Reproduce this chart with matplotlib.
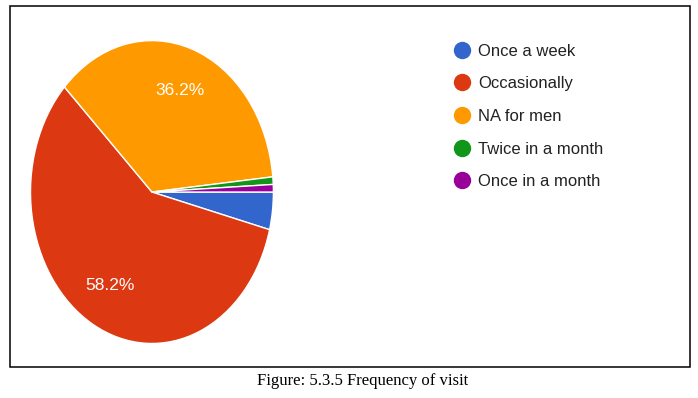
import matplotlib.pyplot as plt
from matplotlib.lines import Line2D
from matplotlib.patches import Rectangle

plt.rcParams['font.family'] = ['Liberation Sans', 'DejaVu Sans']

categories = ['Once a week', 'Occasionally', 'NA for men', 'Twice in a month', 'Once in a month']
shares = [4.0, 58.2, 36.2, 0.8, 0.8]
colors = ['#3366CC', '#DC3912', '#FF9900', '#109618', '#990099']
caption = 'Figure: 5.3.5 Frequency of visit'


def pct_label(p):
    return '%.1f%%' % p if p > 5 else ''


def main():
    fig = plt.figure(figsize=(6.98, 3.98), dpi=100)

    # pie axes (stretched vertically like the source image)
    ax = fig.add_axes([0.0437, 0.137, 0.348, 0.761])
    wedges, texts, autotexts = ax.pie(
        shares, colors=colors, startangle=0, counterclock=False,
        autopct=pct_label, pctdistance=0.71,
        wedgeprops={'edgecolor': 'white', 'linewidth': 1.0},
        textprops={'color': 'white', 'fontsize': 12.5},
    )
    ax.set_aspect('auto')
    ax.set_xlim(-1, 1)
    ax.set_ylim(-1, 1)

    handles = [Line2D([], [], marker='o', linestyle='', markersize=11.5,
                      markerfacecolor=c, markeredgecolor=c) for c in colors]
    fig.legend(handles, categories, loc='upper left',
               bbox_to_anchor=(0.628, 0.928), frameon=False,
               fontsize=12, labelspacing=1.06, handlelength=1.0,
               handletextpad=0.5, labelcolor='#222222')

    # outer frame
    fig.patches.append(Rectangle((0.0143, 0.0779), 0.974, 0.907,
                                 transform=fig.transFigure, fill=False,
                                 edgecolor='black', linewidth=1.1))

    fig.text(0.519, 0.0427, caption, ha='center', va='center',
             family=['Liberation Serif', 'DejaVu Serif'], fontsize=12)

    fig.savefig('out.png', dpi=100)


if __name__ == '__main__':
    main()
